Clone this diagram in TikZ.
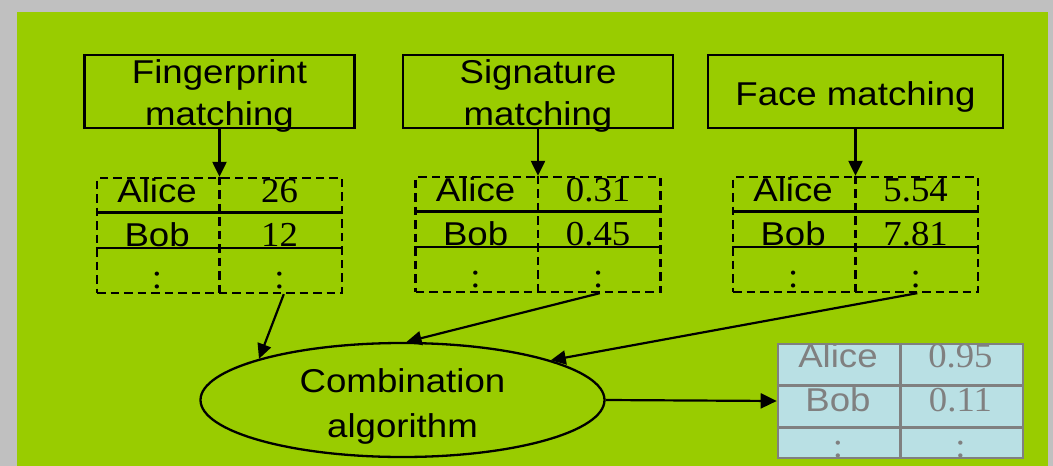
\documentclass[tikz,border=0pt]{standalone}
\usepackage{fontspec}
\setmainfont{Liberation Serif}
\setsansfont{Liberation Sans}
\newfontfamily\lblfont[FakeStretch=1.11]{Liberation Sans}
\newfontfamily\numfont[FakeStretch=1.05]{Liberation Serif}
\usetikzlibrary{shapes.geometric,arrows.meta,calc}
\definecolor{leaf}{RGB}{153,204,0}
\definecolor{frame}{RGB}{192,192,192}
\definecolor{paleblue}{RGB}{185,224,228}
\definecolor{resgray}{RGB}{128,128,128}
\tikzset{
  procbox/.style={draw, line width=2.3pt, rectangle, inner sep=0pt, minimum height=73pt},
  dashes/.style={line width=2.3pt, dash pattern=on 8.5pt off 5pt},
  dtab/.style={draw, dashes, rectangle, inner sep=0pt,
    minimum width=245pt, minimum height=115pt},
  restab/.style={draw=resgray, fill=paleblue, line width=2.6pt, rectangle, inner sep=0pt,
    minimum width=245pt, minimum height=114pt},
  lbl/.style={anchor=base, inner sep=0pt, font=\lblfont\fontsize{33pt}{38pt}\selectfont},
  num/.style={anchor=base, inner sep=0pt, font=\numfont\fontsize{35pt}{40pt}\selectfont},
  rowline/.style={line width=2.3pt},
  conn/.style={line width=2.2pt, -{Triangle[length=15pt,width=14pt]}},
}
\begin{document}
\begin{tikzpicture}[x=1pt,y=-1pt]
  % frame and background
  \fill[frame] (0,0) rectangle (1053,466);
  \fill[leaf] (17,12) rectangle (1048,466);
  \useasboundingbox (0,0) rectangle (1053,466);

  % matching stages
  \node[procbox, minimum width=270pt] (fp) at (219.5,91.5) {};
  \node[procbox, minimum width=270pt] (sig) at (538,91.5) {};
  \node[procbox, minimum width=295pt] (face) at (855.5,91.5) {};
  \node[lbl] (fp1) at (219.5,83) {Fingerprint};
  \node[lbl] (fp2) at (219.5,125) {matching};
  \node[lbl] (sig1) at (538,83) {Signature};
  \node[lbl] (sig2) at (538,125) {matching};
  \node[lbl] (facel) at (855.5,105) {Face matching};

  % score tables
  \node[dtab] (t1) at (219.5,235.5) {};
  \node[dtab] (t2) at (538,234.5) {};
  \node[dtab] (t3) at (855.5,234.5) {};
  \foreach \t/\a/\b in {t1/26/12, t2/0.31/0.45, t3/5.54/7.81}{
    \draw[dashes] (\t.north) -- (\t.south);
    \draw[rowline] ($(\t.north west)+(0,35.5)$) -- ($(\t.north east)+(0,35.5)$);
    \draw[rowline] ($(\t.north west)+(0,71)$) -- ($(\t.north east)+(0,71)$);
    \node[lbl] (\t-n1) at ($(\t.north west)+(61.25,26)$) {Alice};
    \node[lbl] (\t-n2) at ($(\t.north west)+(61.25,70)$) {Bob};
    \node[num] (\t-v1) at ($(\t.north west)+(183.75,26)$) {\a};
    \node[num] (\t-v2) at ($(\t.north west)+(183.75,70)$) {\b};
    \node[num] (\t-d1) at ($(\t.north west)+(61.25,112)$) {:};
    \node[num] (\t-d2) at ($(\t.north west)+(183.75,112)$) {:};
  }

  % combination stage
  \node[ellipse, draw, line width=2.3pt, inner sep=0pt,
        minimum width=404pt, minimum height=114pt] (comb) at (402.5,400) {};
  \node[lbl] (comb1) at (402.5,392) {Combination};
  \node[lbl] (comb2) at (402.5,437) {algorithm};

  % combined result table
  \node[restab] (res) at (900.5,401) {};
  \draw[resgray, line width=2.6pt] (res.north) -- (res.south);
  \draw[resgray, line width=2.6pt] ($(res.north west)+(0,43)$) -- ($(res.north east)+(0,43)$);
  \draw[resgray, line width=2.6pt] ($(res.north west)+(0,85)$) -- ($(res.north east)+(0,85)$);
  \begin{scope}[every node/.append style={text=resgray}]
    \node[lbl] (r-n1) at ($(res.north west)+(61.25,25)$) {Alice};
    \node[lbl] (r-n2) at ($(res.north west)+(61.25,69)$) {Bob};
    \node[num] (r-v1) at ($(res.north west)+(183.75,25)$) {0.95};
    \node[num] (r-v2) at ($(res.north west)+(183.75,69)$) {0.11};
    \node[num] (r-d1) at ($(res.north west)+(61.25,115)$) {:};
    \node[num] (r-d2) at ($(res.north west)+(183.75,115)$) {:};
  \end{scope}

  % connectors
  \draw[conn] (fp.south) -- (t1.north);
  \draw[conn] (sig.south) -- (t2.north);
  \draw[conn] (face.south) -- (t3.north);
  \draw[conn] ($(t1.south)!0.52!(t1.south east)$) -- (comb.164);
  \draw[conn] ($(t2.south)!0.5!(t2.south east)$) -- (comb.86);
  \draw[conn] ($(t3.south)!0.5!(t3.south east)$) -- (comb.15);
  \draw[conn, -{Triangle[length=16pt,width=15pt]}] (comb.east) -- (res.west);
\end{tikzpicture}
\end{document}
